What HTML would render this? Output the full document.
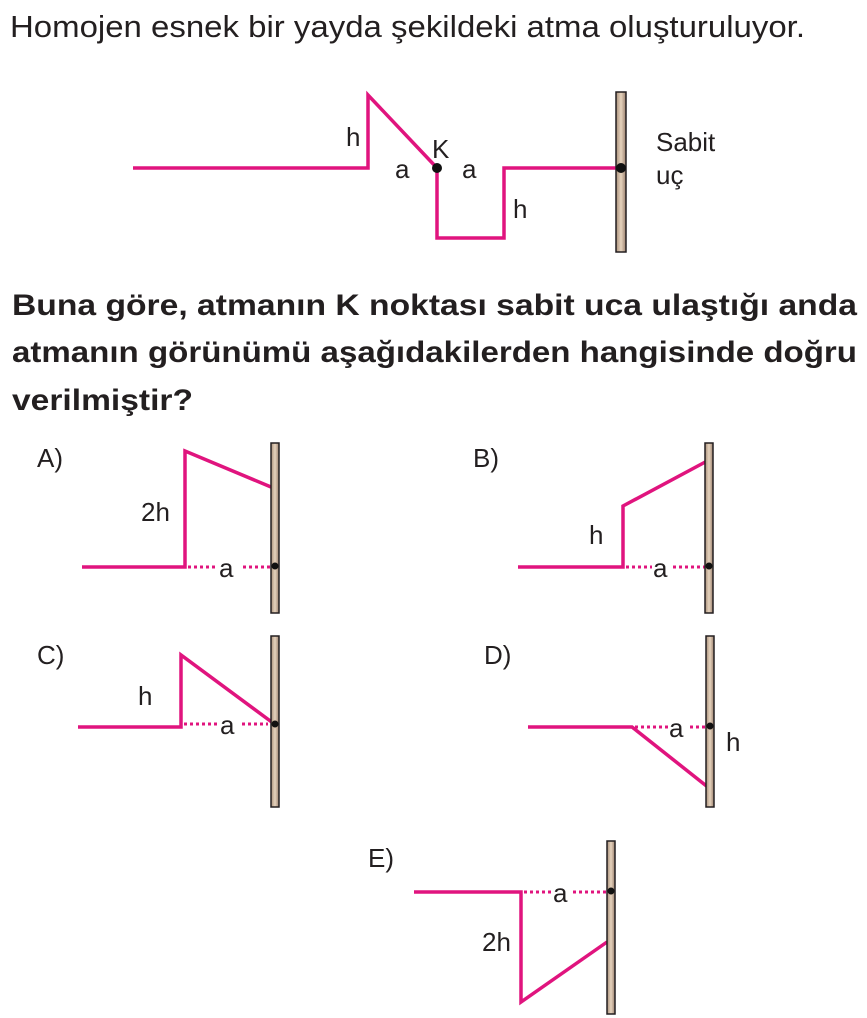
<!DOCTYPE html>
<html><head><meta charset="utf-8"><style>
html,body{margin:0;padding:0;background:#fff;}
svg{display:block;}
text{font-family:"Liberation Sans",sans-serif;fill:#231f20;}
</style></head><body>
<svg width="867" height="1018" viewBox="0 0 867 1018" xmlns="http://www.w3.org/2000/svg">
<defs>
<linearGradient id="w" x1="0" x2="1"><stop offset="0" stop-color="#a88f7a"/><stop offset="0.5" stop-color="#e6d3bd"/><stop offset="1" stop-color="#9c8270"/></linearGradient>
</defs>
<text x="10" y="37" font-size="31" textLength="795" lengthAdjust="spacingAndGlyphs">Homojen esnek bir yayda şekildeki atma oluşturuluyor.</text>
<text x="12" y="315" font-size="30" font-weight="bold" textLength="845" lengthAdjust="spacingAndGlyphs">Buna göre, atmanın K noktası sabit uca ulaştığı anda</text>
<text x="12" y="362" font-size="30" font-weight="bold" textLength="845" lengthAdjust="spacingAndGlyphs">atmanın görünümü aşağıdakilerden hangisinde doğru</text>
<text x="12" y="410" font-size="30" font-weight="bold" textLength="181" lengthAdjust="spacingAndGlyphs">verilmiştir?</text>

<g fill="none" stroke="#e0147e" stroke-width="3.5" stroke-linejoin="miter">
<polyline points="133,168 368,168 368,95 437,168 437,238 504,238 504,168 621,168"/>
<polyline points="82,567 185,567 185,451 271,487"/>
<polyline points="518,567 623,567 623,506 709,460"/>
<polyline points="78,727 181,727 181,655 273,723"/>
<polyline points="528,727 632,727 709,788"/>
<polyline points="414,892 521,892 521,1002 607,942"/>
</g>
<g stroke="#e0147e" stroke-width="3" stroke-dasharray="3,3">
<line x1="188" y1="567" x2="218" y2="567"/><line x1="243" y1="567" x2="272" y2="567"/>
<line x1="626" y1="567" x2="652" y2="567"/><line x1="673" y1="567" x2="708" y2="567"/>
<line x1="184" y1="724" x2="219" y2="724"/><line x1="242" y1="724" x2="268" y2="724"/>
<line x1="635" y1="727" x2="668" y2="727"/><line x1="690" y1="727" x2="707" y2="727"/>
<line x1="524" y1="892" x2="552" y2="892"/><line x1="573" y1="892" x2="607" y2="892"/>
</g>
<g fill="url(#w)" stroke="#231f20" stroke-width="1.5">
<rect x="616" y="92" width="10" height="160"/>
<rect x="271" y="443" width="8" height="170"/>
<rect x="705" y="443" width="8" height="170"/>
<rect x="271" y="636" width="8" height="171"/>
<rect x="706" y="636" width="8" height="171"/>
<rect x="607" y="841" width="8" height="173"/>
</g>
<g fill="#111">
<circle cx="437" cy="168" r="5"/><circle cx="621" cy="168" r="5"/>
<circle cx="275" cy="566" r="3.5"/><circle cx="709" cy="566" r="3.5"/>
<circle cx="275" cy="724" r="3.5"/><circle cx="710" cy="726" r="3.5"/>
<circle cx="611" cy="891" r="3.5"/>
</g>
<g font-size="26">
<text x="346" y="146">h</text>
<text x="395" y="178">a</text>
<text x="432" y="158">K</text>
<text x="462" y="178">a</text>
<text x="513" y="218">h</text>
<text x="656" y="151">Sabit</text>
<text x="656" y="184">uç</text>
<text x="37" y="467">A)</text>
<text x="141" y="521">2h</text>
<text x="219" y="577">a</text>
<text x="473" y="467">B)</text>
<text x="589" y="544">h</text>
<text x="653" y="577">a</text>
<text x="37" y="664">C)</text>
<text x="138" y="705">h</text>
<text x="220" y="734">a</text>
<text x="484" y="664">D)</text>
<text x="669" y="737">a</text>
<text x="726" y="751">h</text>
<text x="368" y="867">E)</text>
<text x="482" y="951">2h</text>
<text x="553" y="902">a</text>
</g>
</svg>
</body></html>
